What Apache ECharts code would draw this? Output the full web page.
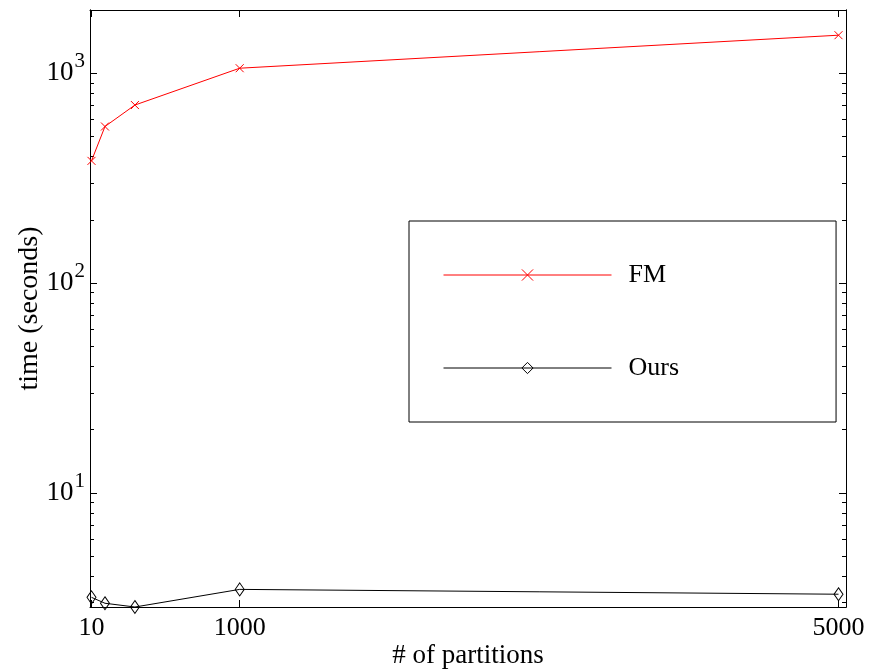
<!DOCTYPE html>
<html><head><meta charset="utf-8">
<script src="https://cdn.jsdelivr.net/npm/echarts@6/dist/echarts.min.js"></script>
<style>html,body{margin:0;padding:0;background:#fff}#c{width:888px;height:672px}</style>
</head><body><div id="c"></div>
<script>
const partitions = [10, 100, 300, 1000, 5000];
const fmTime = [382, 557, 705, 1056, 1517];
const oursTime = [3.18, 2.98, 2.86, 3.47, 3.29];
const xTickValues = [10, 1000, 5000];
const yTickValues = [10, 100, 1000];
const yMinorTickValues = [3,4,5,6,7,8,9,20,30,40,50,60,70,80,90,200,300,400,500,600,700,800,900];
const seriesNames = ['FM', 'Ours'];
const xLabel = '# of partitions';
const yLabel = 'time (seconds)';

const FONT = '"Liberation Serif", "DejaVu Serif", serif';
const X_MIN = 0, X_MAX = 5050, Y_MIN = 2.86, Y_MAX = 2000;

function pairs(xs, ys) { return xs.map((x, i) => [x, ys[i]]); }

const black = { color: '#000', width: 1 };

function yAx(pos, major, extra) {
  return Object.assign({
    type: 'log', logBase: 10, min: Y_MIN, max: Y_MAX, position: pos,
    axisLine: { show: true, onZero: false, lineStyle: black },
    axisTick: { show: true, inside: true, length: major ? 7 : 4,
      customValues: major ? yTickValues : yMinorTickValues, lineStyle: black },
    axisLabel: { show: false },
    splitLine: { show: false }, minorTick: { show: false }, minorSplitLine: { show: false }
  }, extra || {});
}

const chart = echarts.init(document.getElementById('c'), null, { renderer: 'canvas' });
chart.setOption({
  backgroundColor: '#fff',
  animation: false,
  textStyle: { fontFamily: FONT },
  grid: { left: 90, right: 42, top: 10, bottom: 65, containLabel: false, outerBoundsMode: 'none' },
  legend: {
    orient: 'vertical', left: 409, top: 221,
    itemWidth: 168, itemHeight: 14, itemGap: 67,
    padding: [41, 157, 41, 34],
    borderColor: '#000', borderWidth: 1, backgroundColor: '#fff', borderRadius: 0,
    itemStyle: { borderWidth: 1 },
    lineStyle: { width: 1 },
    textStyle: { fontSize: 26, fontFamily: FONT, color: '#000', padding: [0, 0, 0, 12] },
    data: seriesNames
  },
  xAxis: [
    {
      type: 'value', min: X_MIN, max: X_MAX, position: 'bottom',
      axisLine: { show: true, onZero: false, lineStyle: black },
      axisTick: { show: true, inside: true, length: 7, customValues: xTickValues, lineStyle: black },
      axisLabel: { show: true, customValues: xTickValues, formatter: v => String(v),
        fontSize: 26, fontFamily: FONT, color: '#000', margin: 8 },
      splitLine: { show: false },
      name: xLabel, nameLocation: 'middle', nameGap: 35, nameMoveOverlap: false,
      nameTextStyle: { fontSize: 27, fontFamily: FONT, color: '#000' }
    },
    {
      type: 'value', min: X_MIN, max: X_MAX, position: 'top',
      axisLine: { show: true, onZero: false, lineStyle: black },
      axisTick: { show: true, inside: true, length: 7, customValues: xTickValues, lineStyle: black },
      axisLabel: { show: false }, splitLine: { show: false }
    }
  ],
  yAxis: [
    yAx('left', true, {
      axisLabel: {
        show: true, customValues: yTickValues, margin: 5, color: '#000',
        formatter: v => '{b|10}{s|' + Math.round(Math.log10(v)) + '}',
        rich: {
          b: { fontSize: 27, fontFamily: FONT, color: '#000', lineHeight: 44, verticalAlign: 'middle' },
          s: { fontSize: 21, fontFamily: FONT, color: '#000', lineHeight: 20, verticalAlign: 'top', padding: [0, 0, 0, 1] }
        }
      },
      name: yLabel, nameLocation: 'middle', nameGap: 46, nameRotate: 90, nameMoveOverlap: false,
      nameTextStyle: { fontSize: 28, fontFamily: FONT, color: '#000' }
    }),
    yAx('left', false),
    yAx('right', true),
    yAx('right', false)
  ],
  series: [
    {
      name: seriesNames[0], type: 'line', xAxisIndex: 0, yAxisIndex: 0,
      data: pairs(partitions, fmTime), clip: false,
      symbol: 'path://M0,0L10,10M10,0L0,10', symbolSize: 8,
      itemStyle: { color: 'rgba(255,0,0,0)', borderColor: '#ff0000', borderWidth: 1 },
      lineStyle: { color: '#ff0000', width: 1 }
    },
    {
      name: seriesNames[1], type: 'line', xAxisIndex: 0, yAxisIndex: 0,
      data: pairs(partitions, oursTime), clip: false,
      symbol: 'diamond', symbolSize: [9, 13],
      itemStyle: { color: 'rgba(0,0,0,0)', borderColor: '#000', borderWidth: 1 },
      lineStyle: { color: '#000', width: 1 }
    }
  ]
});
</script></body></html>
